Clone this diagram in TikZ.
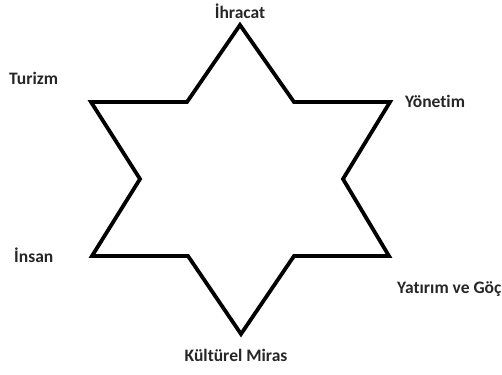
\documentclass[tikz,border=0pt]{standalone}
\usepackage{fontspec}
\setmainfont{Carlito}[Ligatures=NoCommon]
\begin{document}
\begin{tikzpicture}[x=1pt,y=-1pt,font=\fontsize{17.5}{20}\selectfont\bfseries,
    label/.style={inner sep=0pt,text=black!85}]
            \useasboundingbox (0,0) rectangle (502,374);
            \draw[line width=3.8pt,line join=miter] (240,25) -- (294,102) -- (390,102) -- (343,179)
                -- (389,256) -- (294,256) -- (241,334) -- (188,256) -- (92,256)
                -- (140,179) -- (91,102) -- (187,102) -- cycle;
            \node[label] (ihracat) at (240,11) {İhracat};
            \node[label,anchor=west] (turizm) at (9,78) {Turizm};
            \node[label,anchor=west] (yonetim) at (405,101) {Yönetim};
            \node[label,anchor=west] (insan) at (14,255) {İnsan};
            \node[label,anchor=west] (yatirim) at (397,289) {Yatırım ve Göç};
            \node[label] (miras) at (236,355) {Kültürel Miras};
        \end{tikzpicture}
\end{document}
